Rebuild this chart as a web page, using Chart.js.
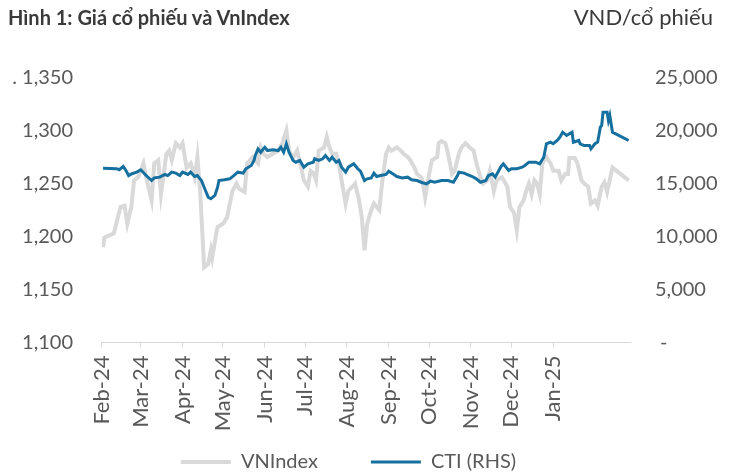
<!DOCTYPE html>
<html>
<head>
<meta charset="utf-8">
<script src="https://cdn.jsdelivr.net/npm/chart.js@4.4.1/dist/chart.umd.min.js"></script>
<style>
  html, body { margin: 0; padding: 0; background: #fff; }
  #wrap { position: relative; width: 730px; height: 473px; }
  #chart { position: absolute; left: 0; top: 0; }
  .head { position: absolute; top: 4px; font-family: Lato, sans-serif; color: #3a3a3a; line-height: 26px; white-space: nowrap; }
  #title { left: 8px; font-size: 20px; font-weight: bold; }
  #unit { right: 17px; font-size: 22px; }
</style>
</head>
<body>
<div id="wrap">
  <canvas id="chart" width="730" height="473"></canvas>
  <div class="head" id="title">Hình 1: Giá cổ phiếu và VnIndex</div>
  <div class="head" id="unit">VND/cổ phiếu</div>
</div>
<script>
// x axis: month ticks
const axisStart = '2024-02-01';
const axisEnd = '2025-02-27';
const tickDates = ['2024-02-01', '2024-03-01', '2024-04-01', '2024-05-01', '2024-06-01', '2024-07-01',
    '2024-08-01', '2024-09-01', '2024-10-01', '2024-11-01', '2024-12-01', '2025-01-01'];
const tickLabels = ['Feb-24', 'Mar-24', 'Apr-24', 'May-24', 'Jun-24', 'Jul-24',
    'Aug-24', 'Sep-24', 'Oct-24', 'Nov-24', 'Dec-24', 'Jan-25'];

// VNIndex (left axis)
const vnDates = [
    '2024-02-02', '2024-02-03', '2024-02-10', '2024-02-15', '2024-02-18', '2024-02-20', '2024-02-23', '2024-02-25', '2024-02-28',
    '2024-03-03', '2024-03-05', '2024-03-09', '2024-03-11', '2024-03-14', '2024-03-16', '2024-03-20', '2024-03-22', '2024-03-24', '2024-03-27', '2024-03-30',
    '2024-04-01', '2024-04-04', '2024-04-07', '2024-04-10', '2024-04-12', '2024-04-14', '2024-04-16', '2024-04-17', '2024-04-20', '2024-04-22', '2024-04-23', '2024-04-26', '2024-04-27',
    '2024-05-01', '2024-05-04', '2024-05-08', '2024-05-11', '2024-05-13', '2024-05-17', '2024-05-19', '2024-05-23', '2024-05-27', '2024-05-29', '2024-05-31',
    '2024-06-03', '2024-06-07', '2024-06-11', '2024-06-14', '2024-06-17', '2024-06-19', '2024-06-22', '2024-06-25', '2024-06-28', '2024-06-30',
    '2024-07-03', '2024-07-05', '2024-07-07', '2024-07-09', '2024-07-11', '2024-07-15', '2024-07-17', '2024-07-19', '2024-07-21', '2024-07-24', '2024-07-26', '2024-07-28', '2024-07-31',
    '2024-08-02', '2024-08-05', '2024-08-07', '2024-08-10', '2024-08-12', '2024-08-14', '2024-08-16', '2024-08-19', '2024-08-21', '2024-08-25', '2024-08-27', '2024-08-30',
    '2024-09-01', '2024-09-03', '2024-09-07', '2024-09-10', '2024-09-12', '2024-09-15', '2024-09-17', '2024-09-20', '2024-09-22', '2024-09-25', '2024-09-26', '2024-09-28',
    '2024-10-01', '2024-10-03', '2024-10-07', '2024-10-08', '2024-10-10', '2024-10-13', '2024-10-15', '2024-10-18', '2024-10-20', '2024-10-23', '2024-10-25', '2024-10-28', '2024-10-31',
    '2024-11-03', '2024-11-05', '2024-11-08', '2024-11-10', '2024-11-13', '2024-11-15', '2024-11-18', '2024-11-20', '2024-11-24', '2024-11-28', '2024-11-30',
    '2024-12-03', '2024-12-05', '2024-12-07', '2024-12-10', '2024-12-12', '2024-12-14', '2024-12-16', '2024-12-18', '2024-12-20', '2024-12-22', '2024-12-24', '2024-12-27', '2024-12-30',
    '2025-01-01', '2025-01-05', '2025-01-07', '2025-01-10', '2025-01-12', '2025-01-13', '2025-01-17', '2025-01-19', '2025-01-22', '2025-01-24', '2025-01-27', '2025-01-29',
    '2025-02-01', '2025-02-03', '2025-02-06', '2025-02-08', '2025-02-10', '2025-02-14', '2025-02-26'
];
const vnValues = [
    1190, 1199, 1203, 1228, 1229, 1212, 1228, 1253, 1256,
    1269, 1256, 1234, 1269, 1272, 1240, 1278, 1281, 1272, 1288, 1284,
    1288, 1265, 1269, 1256, 1275, 1243, 1196, 1171, 1174, 1187, 1180, 1203, 1209,
    1212, 1218, 1243, 1250, 1245, 1242, 1269, 1275, 1269, 1284, 1278,
    1275, 1278, 1281, 1288, 1300, 1281, 1274, 1281, 1265, 1253,
    1247, 1262, 1260, 1253, 1281, 1284, 1294, 1284, 1278, 1278, 1269, 1253, 1231,
    1243, 1247, 1250, 1234, 1218, 1187, 1212, 1225, 1231, 1225, 1250, 1278,
    1284, 1281, 1284, 1281, 1278, 1275, 1272, 1265, 1259, 1256, 1253, 1237,
    1259, 1272, 1275, 1288, 1290, 1288, 1278, 1259, 1262, 1278, 1284, 1288, 1284,
    1281, 1269, 1256, 1250, 1253, 1262, 1243, 1253, 1256, 1247, 1228,
    1222, 1206, 1228, 1234, 1243, 1250, 1240, 1253, 1250, 1240, 1269, 1275, 1269,
    1262, 1262, 1253, 1259, 1259, 1274, 1274, 1269, 1253, 1250, 1247, 1231,
    1234, 1229, 1247, 1251, 1242, 1265, 1253
];

// CTI share price, VND (right axis)
const ctiDates = [
    '2024-02-02', '2024-02-12', '2024-02-14', '2024-02-17', '2024-02-19', '2024-02-21', '2024-02-23', '2024-02-27',
    '2024-03-01', '2024-03-05', '2024-03-09', '2024-03-11', '2024-03-15', '2024-03-19', '2024-03-21', '2024-03-24', '2024-03-27', '2024-03-30',
    '2024-04-01', '2024-04-05', '2024-04-07', '2024-04-10', '2024-04-12', '2024-04-15', '2024-04-17', '2024-04-18', '2024-04-20', '2024-04-22', '2024-04-25', '2024-04-27', '2024-04-28',
    '2024-05-02', '2024-05-06', '2024-05-09', '2024-05-12', '2024-05-16', '2024-05-18', '2024-05-22', '2024-05-24', '2024-05-25', '2024-05-27', '2024-05-29',
    '2024-06-01', '2024-06-03', '2024-06-07', '2024-06-11', '2024-06-13', '2024-06-15', '2024-06-17', '2024-06-19', '2024-06-22', '2024-06-24', '2024-06-27', '2024-06-30',
    '2024-07-03', '2024-07-07', '2024-07-08', '2024-07-11', '2024-07-14', '2024-07-16', '2024-07-19', '2024-07-21', '2024-07-24', '2024-07-26', '2024-07-28', '2024-07-31',
    '2024-08-02', '2024-08-06', '2024-08-09', '2024-08-11', '2024-08-14', '2024-08-16', '2024-08-19', '2024-08-21', '2024-08-23', '2024-08-26', '2024-08-30',
    '2024-09-01', '2024-09-04', '2024-09-07', '2024-09-11', '2024-09-15', '2024-09-18', '2024-09-22', '2024-09-25', '2024-09-29',
    '2024-10-02', '2024-10-05', '2024-10-10', '2024-10-15', '2024-10-19', '2024-10-22', '2024-10-23', '2024-10-27', '2024-10-29',
    '2024-11-02', '2024-11-05', '2024-11-08', '2024-11-12', '2024-11-14', '2024-11-17', '2024-11-19', '2024-11-23', '2024-11-25', '2024-11-29',
    '2024-12-01', '2024-12-05', '2024-12-09', '2024-12-11', '2024-12-14', '2024-12-19', '2024-12-22', '2024-12-25', '2024-12-27', '2024-12-30',
    '2025-01-01', '2025-01-04', '2025-01-06', '2025-01-08', '2025-01-11', '2025-01-13', '2025-01-15', '2025-01-16', '2025-01-20', '2025-01-21', '2025-01-24', '2025-01-28', '2025-01-29',
    '2025-02-01', '2025-02-03', '2025-02-05', '2025-02-06', '2025-02-07', '2025-02-10', '2025-02-11', '2025-02-12', '2025-02-14', '2025-02-26'
];
const ctiValues = [
    16450, 16400, 16300, 16600, 16230, 15750, 15900, 16070,
    16290, 15750, 15280, 15530, 15600, 15850, 15750, 16070, 15980, 15750,
    16070, 15850, 16070, 15660, 15750, 15280, 14650, 14340, 13710, 13560, 13870, 14650, 15280,
    15350, 15440, 15750, 16070, 15980, 16390, 16700, 17170, 17640, 18270, 17950,
    18420, 18110, 18180, 18110, 18420, 17950, 18750, 17950, 17170, 17010, 17170, 16540,
    16860, 17010, 17330, 17170, 17330, 17640, 17170, 17480, 17010, 17170, 16540, 16070,
    16540, 16860, 16390, 16160, 15280, 15440, 15530, 15980, 15660, 15750, 15850,
    16160, 15910, 15660, 15530, 15600, 15350, 15280, 15120, 14970,
    15220, 15120, 15280, 15280, 15120, 15750, 16070, 15980, 15850,
    15660, 15440, 15120, 15280, 15750, 15910, 15600, 16540, 16860, 16230,
    16390, 16390, 16540, 16700, 17010, 17010, 16860, 17480, 18750, 18900,
    18750, 19060, 19370, 19840, 19530, 19690, 19840, 18900, 19060, 18750, 18580, 18580, 18270,
    18750, 18900, 20310, 20470, 21730, 21730, 20940, 21420, 19840, 19060
];

const textColor = '#595959';
const tickFont = { family: 'Lato', size: 20 };

// days since start of axis
function dayOf(s) {
    return Math.round((Date.parse(s) - Date.parse(axisStart)) / 86400000);
}

function toPoints(dates, values) {
    return dates.map((d, i) => ({ x: dayOf(d), y: values[i] }));
}

// move the legend a bit left of centre, and let it start higher than its layout box
const legendShift = {
    id: 'legendShift',
    afterLayout(chart) {
        const lg = chart.legend;
        lg.left -= 16.5;
        lg.right -= 16.5;
        lg.top -= 43;
    }
};

new Chart(document.getElementById('chart'), {
    type: 'line',
    data: {
        datasets: [
            {
                label: 'VNIndex',
                data: toPoints(vnDates, vnValues),
                yAxisID: 'y',
                borderColor: '#d9d9d9',
                backgroundColor: '#d9d9d9',
                borderWidth: 4,
                pointRadius: 0,
                tension: 0,
                order: 1
            },
            {
                label: 'CTI (RHS)',
                data: toPoints(ctiDates, ctiValues),
                yAxisID: 'y1',
                borderColor: '#16709f',
                backgroundColor: '#16709f',
                borderWidth: 3,
                pointRadius: 0,
                tension: 0,
                order: 0
            }
        ]
    },
    options: {
        responsive: false,
        animation: false,
        layout: { padding: { top: 77.5, right: 0, bottom: 0, left: 0 } },
        plugins: {
            legend: {
                position: 'bottom',
                maxHeight: 31,
                labels: {
                    usePointStyle: true,
                    pointStyle: 'line',
                    pointStyleWidth: 50,
                    padding: 53,
                    color: textColor,
                    font: { family: 'Lato', size: 20 },
                    sort: (a, b) => a.datasetIndex - b.datasetIndex
                }
            },
            tooltip: { enabled: false }
        },
        scales: {
            x: {
                type: 'linear',
                min: 0,
                max: dayOf(axisEnd),
                afterBuildTicks: (scale) => {
                    scale.ticks = tickDates.map(d => ({ value: dayOf(d) }));
                },
                afterFit: (scale) => { scale.height = 99.5; },
                ticks: {
                    autoSkip: false,
                    minRotation: 90,
                    maxRotation: 90,
                    padding: 8,
                    color: textColor,
                    font: { family: 'Lato', size: 22 },
                    callback: (value, index) => tickLabels[index]
                },
                grid: { drawOnChartArea: false, drawTicks: true, tickLength: 5, color: '#d9d9d9' },
                border: { color: '#d9d9d9' }
            },
            y: {
                position: 'left',
                min: 1100,
                max: 1350,
                afterFit: (scale) => { scale.width = 101.7; },
                ticks: {
                    stepSize: 50,
                    padding: 28.7,
                    color: textColor,
                    font: tickFont,
                    callback: (value) => (value === 1350 ? '. ' : '') + value.toLocaleString('en-US')
                },
                grid: { display: false, drawTicks: false },
                border: { display: false }
            },
            y1: {
                position: 'right',
                min: 0,
                max: 25000,
                afterFit: (scale) => { scale.width = 100; },
                ticks: {
                    stepSize: 5000,
                    padding: 25,
                    color: textColor,
                    font: tickFont,
                    callback: (value) => value === 0 ? ' -' : value.toLocaleString('en-US')
                },
                grid: { display: false, drawTicks: false },
                border: { display: false }
            }
        }
    },
    plugins: [legendShift]
});
</script>
</body>
</html>
